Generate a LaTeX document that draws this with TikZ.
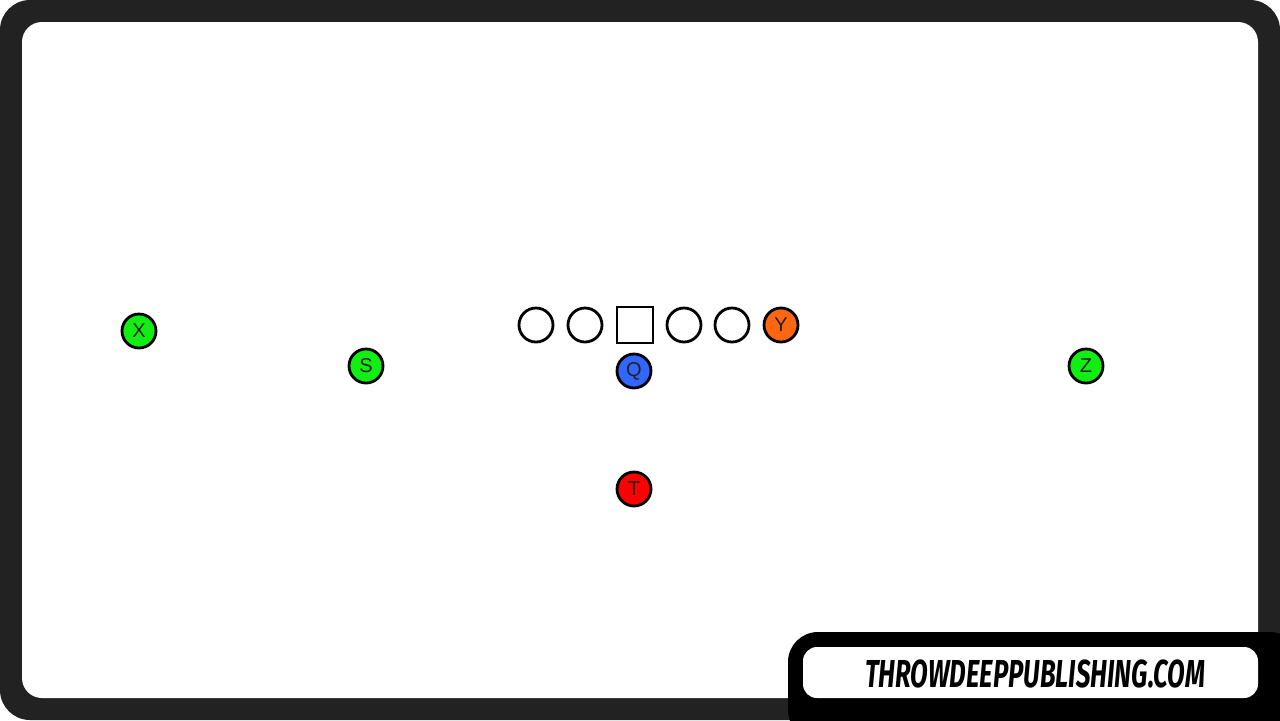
\documentclass[tikz,border=0pt]{standalone}
\usepackage{fontspec}
\setmainfont{Liberation Sans}
\newfontfamily\badgefont{Fira Sans}
\usepackage{graphicx}

\definecolor{frame}{HTML}{222222}
\definecolor{pgreen}{HTML}{11EE11}
\definecolor{pblue}{HTML}{3366FF}
\definecolor{pred}{HTML}{FF0000}
\definecolor{porange}{HTML}{FF6611}

\tikzset{
  player/.style = {circle, draw = black, line width = 1.4pt, minimum size = 17pt, inner sep = 0pt, font = \fontsize{10}{10}\selectfont, text = frame},
  lineman/.style = {player, fill = white},
  center/.style = {rectangle, draw = black, line width = 1.4pt, minimum size = 18pt, inner sep = 0pt, fill = white}
}

\begin{document}
\begin{tikzpicture}[x = 0.5pt, y = -0.5pt]
        \useasboundingbox (0, 0) rectangle (1280, 720);
        \clip (0, 0) rectangle (1280, 720);
        \fill[frame, rounded corners = 15pt] (0, 0) rectangle (1280, 720);
        \fill[white, rounded corners = 10pt] (22, 22) rectangle (1258, 698);

        % offensive line
        \node[lineman] (lt) at (536, 325) {};
        \node[lineman] (lg) at (585, 325) {};
        \node[center] (c) at (635, 325) {};
        \node[lineman] (rg) at (684, 325) {};
        \node[lineman] (rt) at (732, 325) {};
        \node[player, fill = porange] (y) at (781, 325) {Y};

        % backs and receivers
        \node[player, fill = pblue] (q) at (634, 371) {Q};
        \node[player, fill = pred] (t) at (634, 489) {T};
        \node[player, fill = pgreen] (x) at (139, 331) {X};
        \node[player, fill = pgreen] (s) at (366, 366) {S};
        \node[player, fill = pgreen] (z) at (1086, 366) {Z};

        % badge
        \fill[black, rounded corners = 15pt] (788, 632) rectangle (1300, 740);
        \fill[white, rounded corners = 7pt] (803, 647) rectangle (1258, 698);
        \node (site) at (1035, 674) {\scalebox{0.66}[1]{\badgefont\bfseries\itshape\fontsize{19.5}{20}\selectfont THROWDEEPPUBLISHING.COM}};
      \end{tikzpicture}
\end{document}
